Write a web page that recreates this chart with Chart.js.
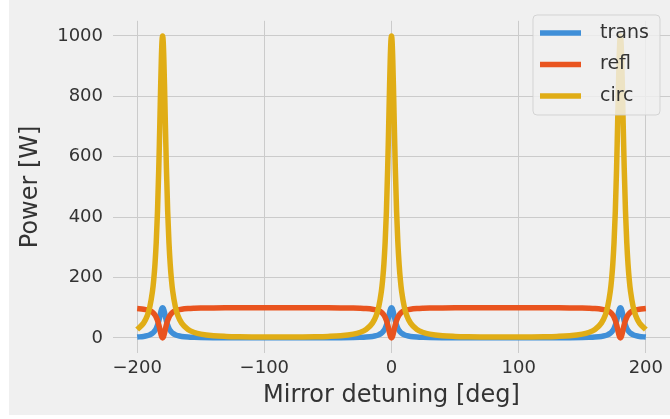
<!DOCTYPE html>
<html><head><meta charset="utf-8">
<script src="https://cdn.jsdelivr.net/npm/chart.js@4/dist/chart.umd.min.js"></script>
<style>html,body{margin:0;padding:0;background:#fff;overflow:hidden}#wrap{position:relative;width:670px;height:419px}</style>
</head><body><div id="wrap"><canvas id="c" width="670" height="419"></canvas></div>
<script>
const detuning = [
  -200,-195,-192,-190,-188,-187,-186,-185,-184,-183,
  -182.5,-182,-181.5,-181,-180.5,-180,
  -179.5,-179,-178.5,-178,-177.5,-177,
  -176,-175,-174,-173,-172,-170,-168,-165,-160,-155,-150,
  -140,-130,-120,-110,-100,-90,-80,-70,-60,-50,-40,
  -30,-25,-20,-15,-12,-10,-8,-7,-6,-5,-4,-3,
  -2.5,-2,-1.5,-1,-0.5,0,
  0.5,1,1.5,2,2.5,3,
  4,5,6,7,8,10,12,15,20,25,30,
  40,50,60,70,80,90,100,110,120,130,140,
  150,155,160,165,168,170,172,173,174,175,176,177,
  177.5,178,178.5,179,179.5,180,
  180.5,181,181.5,182,182.5,183,
  184,185,186,187,188,190,192,195,200
];
const circ = [
  28,49,74,104,153,191,243,316,419,562,
  649,743,837,920,979,1000,
  979,920,837,743,649,562,
  419,316,243,191,153,104,74,49,28,18,12.5,
  7,4.8,3.7,3.1,2.9,2.8,2.9,3.1,3.7,4.8,7,
  12.5,18,28,49,74,104,153,191,243,316,419,562,
  649,743,837,920,979,1000,
  979,920,837,743,649,562,
  419,316,243,191,153,104,74,49,28,18,12.5,
  7,4.8,3.7,3.1,2.9,2.8,2.9,3.1,3.7,4.8,7,
  12.5,18,28,49,74,104,153,191,243,316,419,562,
  649,743,837,920,979,1000,
  979,920,837,743,649,562,
  419,316,243,191,153,104,74,49,28
];
const trans = [
  2.8,4.9,7.4,10.4,15.3,19.1,24.3,31.6,41.9,56.2,
  64.9,74.3,83.7,92.0,97.9,100,
  97.9,92.0,83.7,74.3,64.9,56.2,
  41.9,31.6,24.3,19.1,15.3,10.4,7.4,4.9,2.8,1.8,1.25,
  0.7,0.5,0.4,0.3,0.3,0.3,0.3,0.3,0.4,0.5,0.7,
  1.25,1.8,2.8,4.9,7.4,10.4,15.3,19.1,24.3,31.6,41.9,56.2,
  64.9,74.3,83.7,92.0,97.9,100,
  97.9,92.0,83.7,74.3,64.9,56.2,
  41.9,31.6,24.3,19.1,15.3,10.4,7.4,4.9,2.8,1.8,1.25,
  0.7,0.5,0.4,0.3,0.3,0.3,0.3,0.3,0.4,0.5,0.7,
  1.25,1.8,2.8,4.9,7.4,10.4,15.3,19.1,24.3,31.6,41.9,56.2,
  64.9,74.3,83.7,92.0,97.9,100,
  97.9,92.0,83.7,74.3,64.9,56.2,
  41.9,31.6,24.3,19.1,15.3,10.4,7.4,4.9,2.8
];
const refl = [
  97.2,95.1,92.6,89.6,84.7,80.9,75.7,68.4,58.1,43.8,
  35.1,25.7,16.3,8.0,2.1,0,
  2.1,8.0,16.3,25.7,35.1,43.8,
  58.1,68.4,75.7,80.9,84.7,89.6,92.6,95.1,97.2,98.2,98.75,
  99.3,99.5,99.6,99.7,99.7,99.7,99.7,99.7,99.6,99.5,99.3,
  98.75,98.2,97.2,95.1,92.6,89.6,84.7,80.9,75.7,68.4,58.1,43.8,
  35.1,25.7,16.3,8.0,2.1,0,
  2.1,8.0,16.3,25.7,35.1,43.8,
  58.1,68.4,75.7,80.9,84.7,89.6,92.6,95.1,97.2,98.2,98.75,
  99.3,99.5,99.6,99.7,99.7,99.7,99.7,99.7,99.6,99.5,99.3,
  98.75,98.2,97.2,95.1,92.6,89.6,84.7,80.9,75.7,68.4,58.1,43.8,
  35.1,25.7,16.3,8.0,2.1,0,
  2.1,8.0,16.3,25.7,35.1,43.8,
  58.1,68.4,75.7,80.9,84.7,89.6,92.6,95.1,97.2
];
const seriesNames = ['trans', 'refl', 'circ'];
const seriesColors = ['#3f8fd8', '#e9541f', '#e0ad16'];
const xTicks = [-200, -100, 0, 100, 200];
const yTicks = [0, 200, 400, 600, 800, 1000];
const xLabel = 'Mirror detuning [deg]';
const yLabel = 'Power [W]';

const FONT = 'DejaVu Sans';
const TEXT = '#333333';

const pts = arr => detuning.map((x, i) => ({x: x, y: arr[i]}));
const seriesData = [trans, refl, circ];

const bgPlugin = {
  id: 'bg',
  beforeDraw(chart) {
    const ctx = chart.ctx;
    ctx.save();
    ctx.fillStyle = '#ffffff';
    ctx.fillRect(0, 0, chart.width, chart.height);
    ctx.fillStyle = '#f0f0f0';
    ctx.fillRect(9, 0, chart.width - 9, 415);
    ctx.restore();
  }
};

const legendPlugin = {
  id: 'boxLegend',
  afterDraw(chart) {
    const ctx = chart.ctx;
    const x0 = 533, y0 = 15, w = 127, h = 100, r = 4;
    ctx.save();
    ctx.beginPath();
    ctx.moveTo(x0 + r, y0);
    ctx.arcTo(x0 + w, y0, x0 + w, y0 + h, r);
    ctx.arcTo(x0 + w, y0 + h, x0, y0 + h, r);
    ctx.arcTo(x0, y0 + h, x0, y0, r);
    ctx.arcTo(x0, y0, x0 + w, y0, r);
    ctx.closePath();
    ctx.fillStyle = 'rgba(240,240,240,0.8)';
    ctx.fill();
    ctx.strokeStyle = 'rgba(204,204,204,0.8)';
    ctx.lineWidth = 1;
    ctx.stroke();
    chart.data.datasets.forEach((ds, i) => {
      const y = 33 + i * 31.5;
      ctx.beginPath();
      ctx.moveTo(540, y);
      ctx.lineTo(581, y);
      ctx.strokeStyle = ds.borderColor;
      ctx.lineWidth = 5.5;
      ctx.lineCap = 'butt';
      ctx.stroke();
      ctx.fillStyle = TEXT;
      ctx.font = '19px "' + FONT + '"';
      ctx.textBaseline = 'middle';
      ctx.textAlign = 'left';
      ctx.fillText(ds.label, 600, y);
    });
    ctx.restore();
  }
};

new Chart(document.getElementById('c'), {
  type: 'line',
  data: {
    datasets: seriesNames.map((name, i) => ({
      label: name,
      data: pts(seriesData[i]),
      borderColor: seriesColors[i],
      backgroundColor: seriesColors[i],
      borderWidth: 5.5,
      pointRadius: 0,
      cubicInterpolationMode: 'monotone',
      fill: false,
      borderJoinStyle: 'round',
      order: 2 - i
    }))
  },
  options: {
    responsive: false,
    animation: false,
    devicePixelRatio: 1,
    layout: {padding: {top: 6, left: 0, right: 0, bottom: 0}},
    plugins: {legend: {display: false}, tooltip: {enabled: false}},
    scales: {
      x: {
        type: 'linear',
        min: -219, max: 219,
        afterBuildTicks: s => { s.ticks = xTicks.map(v => ({value: v})); },
        afterFit: s => { s.height = 66; },
        ticks: {
          font: {family: FONT, size: 18}, color: TEXT, padding: 5, maxRotation: 0,
          callback: v => String(v).replace('-', '\u2212')
        },
        grid: {color: '#cbcbcb', lineWidth: 1, drawTicks: false},
        border: {display: false},
        title: {display: true, text: xLabel, font: {family: FONT, size: 24}, color: TEXT, padding: {top: 0, bottom: 9}}
      },
      y: {
        type: 'linear',
        min: -50, max: 1050,
        afterBuildTicks: s => { s.ticks = yTicks.map(v => ({value: v})); },
        afterFit: s => { s.width = 113; },
        ticks: {font: {family: FONT, size: 18}, color: TEXT, padding: 10, callback: v => String(v)},
        grid: {color: '#cbcbcb', lineWidth: 1, drawTicks: false},
        border: {display: false},
        title: {display: true, text: yLabel, font: {family: FONT, size: 24}, color: TEXT, padding: {top: 16, bottom: 0}}
      }
    }
  },
  plugins: [bgPlugin, legendPlugin]
});
</script>
</body></html>
